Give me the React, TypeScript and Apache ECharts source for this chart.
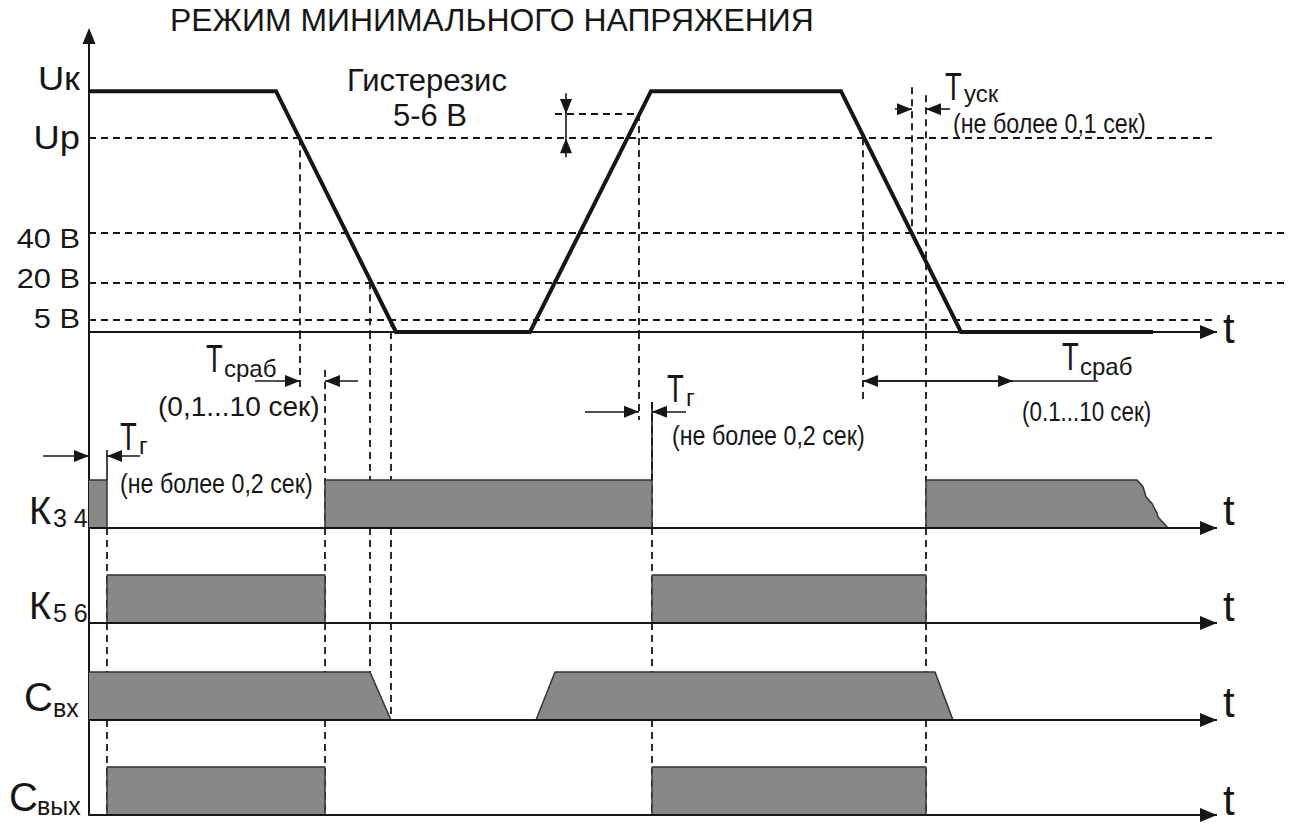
import { useEffect, useRef } from 'react';
import * as echarts from 'echarts';

const TITLE = 'РЕЖИМ МИНИМАЛЬНОГО НАПРЯЖЕНИЯ';

// ---- Top panel: input voltage vs time (time in arbitrary units) ----
const uTime = [0, 18.7, 30.7, 44.1, 56.2, 75.2, 87.2, 106.4];
const uValue = [96.8, 96.8, 0, 0, 96.8, 96.8, 0, 0];

const levelLabels = ['Uк', 'Up', '40 В', '20 В', '5 В'];
const levelValues = [96.8, 77.9, 40, 20, 5];
const levelLineEnd = [0, 112.6, 120, 120, 112.6]; // 0 = no dashed guide
const hystValue = 87.6;
const hystRange = [46.6, 55.0];
const hystLabel = ['Гистерезис', '5-6 В'];

// ---- Digital channels (1 = on, 0 = off) ----
const k34Time = [0, 1.8, 1.8, 23.6, 23.6, 56.3, 56.3, 83.7, 83.7, 104.8, 105.4, 105.7, 106.3, 106.8, 106.9, 107.9];
const k34Value = [1, 1, 0, 0, 1, 1, 0, 0, 1, 1, 0.86, 0.65, 0.51, 0.31, 0.23, 0];
const k56Time = [0, 1.8, 1.8, 23.6, 23.6, 56.3, 56.3, 83.7, 83.7];
const k56Value = [0, 0, 1, 1, 0, 0, 1, 1, 0];
const cInTime = [0, 28.1, 30.2, 44.7, 46.6, 84.6, 86.4];
const cInValue = [1, 1, 0, 0, 1, 1, 0];
const cOutTime = [0, 1.8, 1.8, 23.6, 23.6, 56.3, 56.3, 83.7, 83.7];
const cOutValue = [0, 0, 1, 1, 0, 0, 1, 1, 0];
const channelMain = ['К', 'К', 'С', 'С'];
const channelSub = ['3 4', '5 6', 'вх', 'вых'];

// ---- Vertical dashed guides: time, from [panel, level] to [panel, level] ----
const guideTime = [1.8, 21.1, 23.6, 28.1, 30.2, 55.0, 56.3, 77.4, 82.3, 83.7];
const guideFrom: [number, number][] = [[2, -1], [0, 77.9], [1, 3.29], [0, 20], [0, 5], [0, 87.6], [1, 2.625], [0, 77.9], [0, 98.4], [0, 95.2]];
const guideTo: [number, number][] = [[4, 0], [1, 2.92], [4, 0], [3, 1], [3, 0], [1, 2.25], [4, 0], [1, 2.625], [0, 40], [4, 0]];

// ---- Timing annotation arrows: panel, level, tail time, head time ----
const arrowPanel = [1, 1, 1, 1, 1, 1, 1, 1, 0, 0];
const arrowLevel = [3.06, 3.06, 1.5, 1.5, 2.42, 2.42, 3.06, 3.06, 89.6, 89.6];
const arrowTail = [16.6, 26.9, -4.6, 5.1, 49.6, 59.7, 85, 85, 80.6, 86.1];
const arrowHead = [21.1, 23.6, 0, 1.8, 55.0, 56.3, 77.4, 92.4, 82.3, 83.7];
const annotTexts = ['(0,1...10 сек)', '(не более 0,2 сек)', '(не более 0,2 сек)', '(0.1...10 сек)', '(не более 0,1 сек)'];
const axisEnd = 112.8;

// layout
const W = 1290;
const H = 825;
const gridTop = [36, 332, 528, 623, 720];
const gridBottom = [332, 528, 623, 720, 815];
const levelPx = 48;
const yMax = [119, (528 - 332) / levelPx, (623 - 528) / levelPx, (720 - 623) / levelPx, (815 - 720) / levelPx];
const FONT = '"Liberation Sans", Arial, Helvetica, sans-serif';
const INK = '#161616';

type Seg = [number, number, number, number];

function mlSeries(g: number, segs: Seg[], opt: any) {
  return {
    type: 'line',
    xAxisIndex: g,
    yAxisIndex: g,
    data: [],
    silent: true,
    z: opt.z ?? 3,
    markLine: {
      silent: true,
      animation: false,
      z: opt.z ?? 3,
      symbol: opt.symbol ?? ['none', 'none'],
      symbolSize: opt.symbolSize ?? 1,
      symbolOffset: opt.symbolOffset ?? [0, 0],
      label: { show: false },
      emphasis: { disabled: true },
      itemStyle: { color: INK },
      lineStyle: opt.lineStyle,
      data: segs.map((s) => [{ coord: [s[0], s[1]] }, { coord: [s[2], s[3]] }]),
    },
  };
}

function buildOption() {
  const n = gridTop.length;
  const grid = gridTop.map((t, i) => ({ left: 0, width: W, top: t, height: gridBottom[i] - t }));
  const xAxis = gridTop.map((_, i) => ({
    type: 'value', gridIndex: i, min: -8.9, max: 120.1, show: false,
  }));
  const yAxis = gridTop.map((_, i) => ({
    type: 'value', gridIndex: i, min: 0, max: yMax[i],
    axisLine: {
      show: true, onZero: true,
      lineStyle: { color: INK, width: 2 },
      symbol: i === 0 ? ['none', 'triangle'] : ['none', 'none'],
      symbolSize: [13, 16],
    },
    axisTick: { show: false }, axisLabel: { show: false }, splitLine: { show: false },
  }));

  const dashed: Seg[][] = Array.from({ length: n }, () => []);
  levelValues.forEach((v, i) => {
    if (levelLineEnd[i] > 0) dashed[0].push([0, v, levelLineEnd[i], v]);
  });
  dashed[0].push([hystRange[0], hystValue, hystRange[1], hystValue]);
  guideTime.forEach((t, i) => {
    const [g1, a] = guideFrom[i];
    const [g2, b] = guideTo[i];
    const y1 = a < 0 ? yMax[g1] : a;
    if (g1 === g2) { dashed[g1].push([t, y1, t, b]); return; }
    dashed[g1].push([t, y1, t, 0]);
    for (let g = g1 + 1; g < g2; g++) dashed[g].push([t, yMax[g], t, 0]);
    dashed[g2].push([t, yMax[g2], t, b]);
  });

  const arrows: Seg[][] = Array.from({ length: n }, () => []);
  arrowPanel.forEach((g, i) => arrows[g].push([arrowTail[i], arrowLevel[i], arrowHead[i], arrowLevel[i]]));
  arrows[0].push([47.7, 96, 47.7, hystValue]);
  arrows[0].push([47.7, 70.3, 47.7, levelValues[1]]);

  const plain: Seg[][] = Array.from({ length: n }, () => []);
  plain[0].push([47.7, hystValue, 47.7, levelValues[1]]);
  plain[1].push([77.4, 3.06, 100.9, 3.06]);
  plain[1].push([1.8, 1.625, 1.8, 1]);
  plain[1].push([56.3, 1, 56.3, 2.625]);

  const series: any[] = [];
  for (let g = 0; g < n; g++) {
    series.push(mlSeries(g, dashed[g], { z: 2, lineStyle: { color: INK, width: 1.8, type: [7, 5] } }));
    if (plain[g].length) series.push(mlSeries(g, plain[g], { z: 8, lineStyle: { color: INK, width: 1.6, type: 'solid' } }));
    if (arrows[g].length) series.push(mlSeries(g, arrows[g], {
      z: 8, symbol: ['none', 'triangle'], symbolSize: [12, 15], symbolOffset: [0, [0, 7.5]],
      lineStyle: { color: INK, width: 1.6, type: 'solid' },
    }));
    series.push(mlSeries(g, [[0, 0, axisEnd, 0]], {
      z: 9, symbol: ['none', 'triangle'], symbolSize: [14, 17], symbolOffset: [0, [0, 8.5]],
      lineStyle: { color: INK, width: 2, type: 'solid' },
    }));
  }

  series.push({
    type: 'line', xAxisIndex: 0, yAxisIndex: 0, z: 6, silent: true,
    data: uTime.map((t, i) => [t, uValue[i]]),
    showSymbol: false, symbol: 'none',
    lineStyle: { color: INK, width: 4, join: 'miter' },
  });
  const chans = [[k34Time, k34Value], [k56Time, k56Value], [cInTime, cInValue], [cOutTime, cOutValue]];
  chans.forEach(([tt, vv], i) => {
    series.push({
      type: 'line', xAxisIndex: i + 1, yAxisIndex: i + 1, z: 6, silent: true,
      data: tt.map((t, j) => [t, vv[j]]),
      showSymbol: false, symbol: 'none',
      lineStyle: { color: '#333', width: 1.5 },
      areaStyle: { color: '#888888', opacity: 1 },
    });
  });

  const txt = (text: string, x: number, y: number, size: number, align = 'left', scaleX = 1) => ({
    type: 'text', x, y, scaleX, silent: true, z: 20,
    style: {
      text, fontSize: size, fontFamily: FONT, fill: INK,
      textAlign: align, align, textVerticalAlign: 'middle', verticalAlign: 'middle',
    },
  });

  const els: any[] = [];
  els.push(txt(TITLE, 170, 21, 31, 'left', 1.03));
  const levelY = [79, 138, 238, 278, 318];
  levelLabels.forEach((l, i) => els.push(txt(l, 80, levelY[i], i < 2 ? 33 : 28, 'right', 1.1)));
  els.push(txt(hystLabel[0], 427, 80, 31, 'center'));
  els.push(txt(hystLabel[1], 430, 115, 31, 'center'));
  // T with subscripts
  const tMain: [number, number, string, number, number][] = [
    [945, 87, 'уск', 964, 93],
    [206, 359, 'сраб', 224, 368],
    [120, 437, 'г', 139, 445],
    [667, 389, 'г', 686, 397],
    [1062, 357, 'сраб', 1080, 366],
  ];
  tMain.forEach(([x, y, s, sx, sy]) => {
    els.push(txt('T', x, y, 38, 'left', 0.72));
    els.push(txt(s, sx, sy, 24));
  });
  const annX = [158, 120, 672, 1022, 953];
  const annY = [406, 483, 435, 411, 123];
  const annS = [1.0, 0.83, 0.83, 0.8, 0.83];
  annotTexts.forEach((t, i) => els.push(txt(t, annX[i], annY[i], 28, 'left', annS[i])));
  // channel labels
  const chMainX = [29, 29, 24, 9];
  const chMainY = [511, 606, 697, 797];
  const chMainS = [38, 38, 40, 40];
  const chSubX = [53, 53, 53, 37];
  const chSubY = [518, 613, 708, 806];
  channelMain.forEach((m, i) => {
    els.push(txt(m, chMainX[i], chMainY[i], chMainS[i]));
    els.push(txt(channelSub[i], chSubX[i], chSubY[i], 25));
  });
  const tY = [328, 510, 606, 702, 800];
  tY.forEach((y) => els.push(txt('t', 1223, y, 42)));

  return {
    animation: false,
    backgroundColor: '#ffffff',
    grid, xAxis, yAxis, series,
    graphic: { elements: els },
  };
}

export default function App() {
  const ref = useRef<HTMLDivElement>(null);
  useEffect(() => {
    if (!ref.current) return;
    const chart = echarts.init(ref.current, undefined, { renderer: 'svg' });
    chart.setOption(buildOption() as any);
    return () => chart.dispose();
  }, []);
  return <div ref={ref} style={{ position: 'absolute', left: 0, top: 0, width: W, height: H, background: '#fff' }} />;
}
